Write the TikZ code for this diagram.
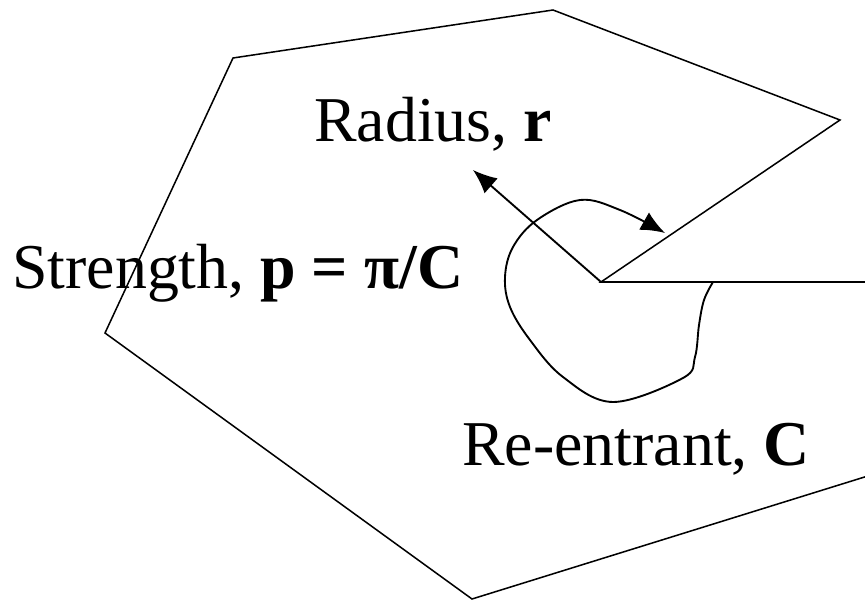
\documentclass[tikz,border=0pt]{standalone}
\usepackage{fontspec}
\setmainfont{Liberation Serif}
\usetikzlibrary{arrows.meta}

\tikzset{
  outline/.style={black,line width=1.3pt,line join=miter},
  reach/.style={black,line width=1.6pt,-{Latex[length=0.72cm,width=0.6cm]}},
  label text/.style={anchor=base west,inner sep=0pt,
    font=\fontsize{54.5}{60}\selectfont}
}

\begin{document}
\begin{tikzpicture}[x=0.03cm,y=-0.03cm]

        \useasboundingbox (0,0) rectangle (865,600);
        \clip (0,0) rectangle (865,600);

        \coordinate (corner) at (601,282);
        \coordinate (radius tip) at (473,170);
        \coordinate (sweep start) at (713,282);
        \coordinate (sweep tip) at (665,233);

        \draw[outline]
          (233,58) -- (553,10) -- (840,120) -- (corner)
          -- (900,282) -- (900,466) -- (472,599) -- (105,333) -- cycle;

        \draw[reach] (corner) -- (radius tip);

        \draw[reach] plot[smooth,tension=0.6] coordinates {
          (sweep start) (704,300) (699,325) (695,357) (683,378)
          (613,402) (563,377) (530,340) (510,307) (505,277)
          (513,247) (537,220) (580,200) (620,210) (sweep tip)};

        \node[label text] (radius label) at (314,142)
          {Radius, \textbf{r}};

        \node[label text] (strength label) at (12,289)
          {Strength, \textbf{p = π/C}};

        \node[label text] (reentrant label) at (462,465)
          {Re-entrant, \textbf{C}};

      \end{tikzpicture}
\end{document}
